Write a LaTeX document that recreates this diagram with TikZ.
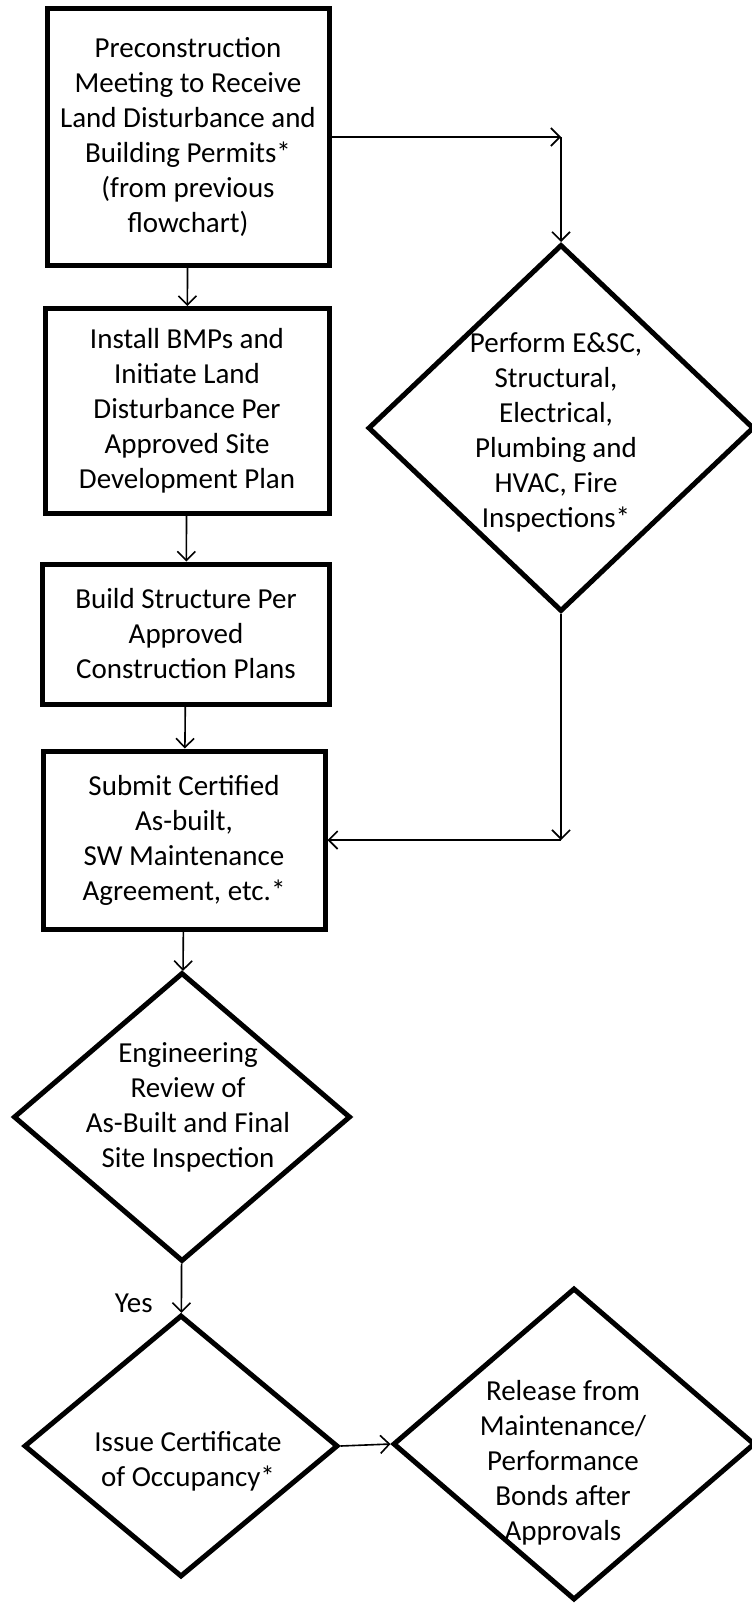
\documentclass[tikz,border=0pt]{standalone}
\usepackage{fontspec}
\setmainfont{Carlito}
\usetikzlibrary{shapes.geometric,arrows.meta}

\tikzset{
  stepbox/.style={shape=rectangle,draw=black,line width=5pt,align=center,inner sep=0pt},
  decision/.style={shape=diamond,draw=black,line width=5pt,inner sep=0pt},
  dtext/.style={align=center,inner sep=0pt},
  flow/.style={line width=1.6pt,-{Straight Barb[length=9pt,width=18pt]}}
}

\begin{document}
\begin{tikzpicture}[x=1pt,y=-1pt,font=\fontsize{29}{35}\selectfont]
\useasboundingbox (0,0) rectangle (752,1604);

\node[stepbox,minimum width=282pt,minimum height=257pt] (Pre) at (188,137) {Preconstruction\\Meeting to Receive\\Land Disturbance and\\Building Permits*\\(from previous\\flowchart)};
\node[stepbox,minimum width=284pt,minimum height=205pt] (BMP) at (187,411) {Install BMPs and\\Initiate Land\\Disturbance Per\\Approved Site\\Development Plan};
\node[stepbox,minimum width=287pt,minimum height=140pt] (Build) at (186,634) {Build Structure Per\\Approved\\Construction Plans};
\node[stepbox,minimum width=282pt,minimum height=178pt] (Sub) at (184,840) {Submit Certified\\As-built,\\SW Maintenance\\Agreement, etc.*};

\node[decision,minimum width=386pt,minimum height=367pt] (Insp) at (561,428) {};
\node[dtext] (InspT) at (556,432) {Perform E\&SC,\\Structural,\\Electrical,\\Plumbing and\\HVAC, Fire\\Inspections*};

\node[decision,minimum width=337pt,minimum height=289pt] (Rev) at (182,1117) {};
\node[dtext] (RevT) at (188,1107) {Engineering\\Review of\\As-Built and Final\\Site Inspection};

\node[decision,minimum width=314pt,minimum height=262pt] (CO) at (181,1446) {};
\node[dtext] (COT) at (188,1461) {Issue Certificate\\of Occupancy*};

\node[decision,minimum width=362pt,minimum height=312pt] (Rel) at (574,1444) {};
\node[dtext] (RelT) at (563,1463) {Release from\\Maintenance/\\Performance\\Bonds after\\Approvals};

\coordinate (C1) at (Pre.east -| Insp);
\coordinate (C2) at (Sub.east -| Insp);

\path [flow] (Pre) edge (BMP);
\path [flow] (BMP) edge (Build);
\path [flow] (Build) edge (Sub);
\path [flow] (Pre.east) edge (C1);
\path [flow] (C1) edge (Insp);
\path [flow] (Insp) edge (C2);
\path [flow] (C2) edge (Sub.east);
\path [flow] (Sub) edge (Rev);
\path [flow] (Rev) edge node[pos=0.8,left=28pt,inner sep=0pt] (Yes) {Yes} (CO);
\path [flow] (CO.east) edge (Rel.west);

\end{tikzpicture}
\end{document}
